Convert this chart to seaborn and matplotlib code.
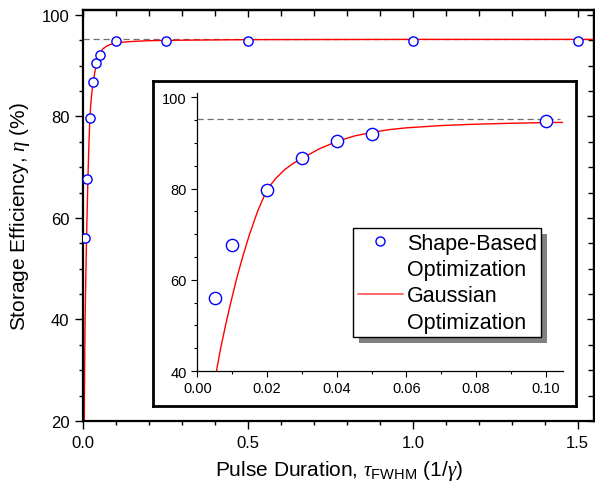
import matplotlib
matplotlib.use("Agg")
import matplotlib.pyplot as plt
import seaborn as sns
from matplotlib.lines import Line2D
from matplotlib.patches import Rectangle
from matplotlib.ticker import MultipleLocator

# ---------------- data ----------------
pulse_duration = [0.005, 0.01, 0.02, 0.03, 0.04, 0.05, 0.1, 0.25, 0.5, 1.0, 1.5]
shape_based_eff = [56.0, 67.6, 79.6, 86.7, 90.5, 92.0, 94.8, 94.8, 94.8, 94.8, 94.8]

gauss_duration = [0.0025, 0.003, 0.0035, 0.004, 0.0047, 0.0055, 0.0067, 0.0081, 0.0096,
                  0.0112, 0.013, 0.015, 0.0173, 0.02, 0.0225, 0.025, 0.0275, 0.03,
                  0.035, 0.04, 0.045, 0.05, 0.055, 0.06, 0.07, 0.08, 0.09, 0.1,
                  0.12, 0.15, 0.2, 0.3, 0.5, 1.0, 1.55]
gauss_eff = [14.0, 20.0, 25.0, 29.5, 35.0, 40.0, 45.0, 50.0, 55.0,
             60.0, 65.0, 70.0, 75.0, 79.8, 82.2, 84.1, 85.5, 86.6,
             88.7, 90.3, 91.5, 92.3, 92.9, 93.3, 93.8, 94.1, 94.3, 94.45,
             94.6, 94.75, 94.9, 95.0, 95.1, 95.15, 95.15]

efficiency_limit = 95.2

main_xticks = [0.0, 0.5, 1.0, 1.5]
main_xticklabels = ["0.0", "0.5", "1.0", "1.5"]
main_yticks = [20, 40, 60, 80, 100]
inset_xticks = [0.00, 0.02, 0.04, 0.06, 0.08, 0.10]
inset_xticklabels = ["0.00", "0.02", "0.04", "0.06", "0.08", "0.10"]
inset_yticks = [40, 60, 80, 100]

legend_labels = ["Shape-Based", "Optimization", "Gaussian", "Optimization"]
x_label = r"Pulse Duration, $\tau_{\mathrm{FWHM}}$ (1/$\gamma$)"
y_label = r"Storage Efficiency, $\eta$ (%)"

# ---------------- style ----------------
sns.set_style("ticks")
plt.rcParams["font.family"] = ["Liberation Sans", "DejaVu Sans"]
plt.rcParams["mathtext.fontset"] = "custom"
plt.rcParams["mathtext.rm"] = "Liberation Sans"
plt.rcParams["mathtext.it"] = "Liberation Serif:italic"
plt.rcParams["mathtext.bf"] = "Liberation Sans:bold"
for k in ["axes.edgecolor", "xtick.color", "ytick.color", "text.color", "axes.labelcolor"]:
    plt.rcParams[k] = "black"

W, H = 595, 485
fig = plt.figure(figsize=(W / 100, H / 100), dpi=100)
fig.patch.set_facecolor("white")

# ---------------- main axes ----------------
ax = fig.add_axes([83.3 / W, (H - 422) / H, (594 - 83.3) / W, (422 - 10.7) / H])
sns.lineplot(x=gauss_duration, y=gauss_eff, ax=ax, color="red", linewidth=1.0,
             estimator=None, sort=False, zorder=2)
ax.axhline(efficiency_limit, color="#707070", linestyle=(0, (5, 3)), linewidth=0.9, zorder=1)
sns.scatterplot(x=pulse_duration, y=shape_based_eff, ax=ax, marker="o", s=44,
                facecolor="white", edgecolor="blue", linewidth=1.0, zorder=3)
ax.set_xlim(0, 1.55)
ax.set_ylim(20, 101)
ax.set_xticks(main_xticks)
ax.set_xticklabels(main_xticklabels)
ax.set_yticks(main_yticks)
ax.xaxis.set_minor_locator(MultipleLocator(0.1))
ax.yaxis.set_minor_locator(MultipleLocator(5))
ax.tick_params(which="major", direction="out", length=6, width=1.0, labelsize=12, pad=4)
ax.tick_params(which="minor", direction="out", length=3, width=1.0)
for s in ax.spines.values():
    s.set_linewidth(1.6)
    s.set_visible(True)
ax.set_xlabel(x_label, fontsize=15, labelpad=6)
ax.set_ylabel(y_label, fontsize=15, labelpad=7)

sec_x = ax.secondary_xaxis("top")
sec_x.set_xticks(main_xticks)
sec_x.xaxis.set_minor_locator(MultipleLocator(0.1))
sec_x.tick_params(which="both", direction="in", labeltop=False, width=1.0)
sec_x.tick_params(which="major", length=5)
sec_x.tick_params(which="minor", length=4)
sec_x.spines["top"].set_linewidth(1.6)
sec_y = ax.secondary_yaxis("right")
sec_y.set_yticks(main_yticks)
sec_y.yaxis.set_minor_locator(MultipleLocator(5))
sec_y.tick_params(which="both", direction="in", labelright=False, width=1.0)
sec_y.tick_params(which="major", length=5)
sec_y.tick_params(which="minor", length=4)
sec_y.spines["right"].set_linewidth(1.6)

# ---------------- inset frame ----------------
ax_frame = fig.add_axes([153 / W, (H - 406.7) / H, (575.7 - 153) / W, (406.7 - 82) / H])
ax_frame.set_zorder(1)
ax_frame.set_facecolor("white")
ax_frame.set_xticks([])
ax_frame.set_yticks([])
for s in ax_frame.spines.values():
    s.set_linewidth(2.0)
    s.set_visible(True)

# ---------------- inset axes ----------------
ax_in = fig.add_axes([197.3 / W, (H - 372) / H, (563.3 - 197.3) / W, (372 - 93.7) / H])
ax_in.set_zorder(2)
ax_in.set_facecolor("none")
sns.lineplot(x=gauss_duration, y=gauss_eff, ax=ax_in, color="red", linewidth=1.0,
             estimator=None, sort=False, zorder=2)
ax_in.axhline(efficiency_limit, xmin=0, xmax=0.99, color="#707070",
              linestyle=(0, (5, 3)), linewidth=0.9, zorder=1)
sns.scatterplot(x=pulse_duration, y=shape_based_eff, ax=ax_in, marker="o", s=78,
                facecolor="white", edgecolor="blue", linewidth=1.0, zorder=3)
ax_in.set_xlim(0, 0.105)
ax_in.set_ylim(40, 101)
ax_in.set_xticks(inset_xticks)
ax_in.set_xticklabels(inset_xticklabels)
ax_in.set_yticks(inset_yticks)
ax_in.xaxis.set_minor_locator(MultipleLocator(0.01))
ax_in.yaxis.set_minor_locator(MultipleLocator(5))
ax_in.tick_params(which="major", direction="out", length=4.5, width=0.8, labelsize=10.5, pad=3)
ax_in.tick_params(which="minor", direction="out", length=2.5, width=0.8)
ax_in.spines["top"].set_visible(False)
ax_in.spines["right"].set_visible(False)
for s in ["left", "bottom"]:
    ax_in.spines[s].set_linewidth(0.9)
ax_in.set_xlabel("")
ax_in.set_ylabel("")

# ---------------- legend ----------------
blank = Line2D([], [], color="none")
h_marker = Line2D([], [], linestyle="none", marker="o", markersize=6.5,
                  markerfacecolor="white", markeredgecolor="blue", markeredgewidth=1.0)
h_line = Line2D([], [], color="#ff5050", linewidth=1.2)
leg = ax_in.legend([h_marker, blank, h_line, blank], legend_labels,
                   loc="upper left", bbox_to_anchor=(353.3 / W, 1 - 229.3 / H),
                   bbox_transform=fig.transFigure, borderaxespad=0, frameon=True,
                   fancybox=False, edgecolor="black", framealpha=1, fontsize=15.5,
                   handlelength=2.1, handletextpad=0.2, labelspacing=0.25,
                   borderpad=0.2)
leg.get_frame().set_linewidth(1.0)
leg.set_zorder(5)

fig.canvas.draw()
bb = leg.get_window_extent()
inv = fig.transFigure.inverted()
(x0, y0) = inv.transform((bb.x0 + 6, bb.y0 - 6))
(x1, y1) = inv.transform((bb.x1 + 6, bb.y1 - 6))
shadow = Rectangle((x0, y0), x1 - x0, y1 - y0, transform=fig.transFigure,
                   facecolor="#808080", edgecolor="none", zorder=4.5, clip_on=False)
ax_in.add_artist(shadow)

fig.savefig("out.png", dpi=100)
